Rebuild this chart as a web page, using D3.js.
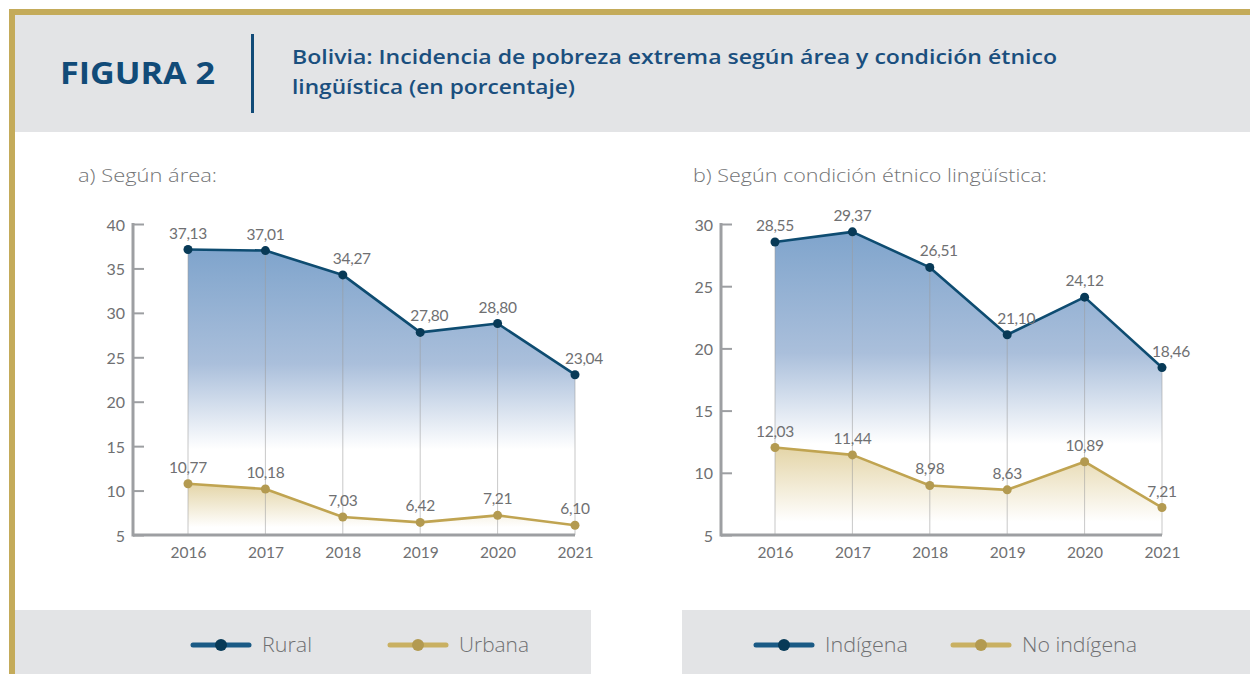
<!DOCTYPE html>
<html>
<head>
<meta charset="utf-8">
<script src="https://cdn.jsdelivr.net/npm/d3@7"></script>
<style>
  html, body { margin: 0; padding: 0; background: #fff; }
  svg { display: block; font-family: Lato, "Open Sans", sans-serif; }
</style>
</head>
<body>
<div id="chart"></div>
<script>
// Data
const years = ["2016", "2017", "2018", "2019", "2020", "2021"];
const rural = [37.13, 37.01, 34.27, 27.80, 28.80, 23.04];
const urbana = [10.77, 10.18, 7.03, 6.42, 7.21, 6.10];
const indigena = [28.55, 29.37, 26.51, 21.10, 24.12, 18.46];
const noIndigena = [12.03, 11.44, 8.98, 8.63, 10.89, 7.21];
const ticksA = [5, 10, 15, 20, 25, 30, 35, 40];
const ticksB = [5, 10, 15, 20, 25, 30];

const W = 1250, H = 674;
const gold = "#c4ab5a", grayBg = "#e3e4e6", navy = "#114b78";
const blueLine = "#0e4c71", blueDot = "#083a57";
const goldLine = "#c0a451", goldDot = "#b39a50";
const textGray = "#6f7072", axisGray = "#9d9fa2";
const sans = "'Open Sans', sans-serif";

const svg = d3.select("#chart").append("svg")
  .attr("width", W)
  .attr("height", H);

const defs = svg.append("defs");
const gBlue = defs.append("linearGradient").attr("id", "gBlue")
  .attr("x1", 0).attr("y1", 0).attr("x2", 0).attr("y2", 1);
gBlue.append("stop").attr("offset", "0%").attr("stop-color", "#7fa4cc");
gBlue.append("stop").attr("offset", "40%").attr("stop-color", "#aabfdb");
gBlue.append("stop").attr("offset", "70%").attr("stop-color", "#ffffff");
const gGold = defs.append("linearGradient").attr("id", "gGold")
  .attr("x1", 0).attr("y1", 0).attr("x2", 0).attr("y2", 1);
gGold.append("stop").attr("offset", "0%").attr("stop-color", "#e4d5a8");
gGold.append("stop").attr("offset", "85%").attr("stop-color", "#ffffff");

// frame + header
svg.append("rect").attr("x", 15).attr("y", 15).attr("width", W - 15).attr("height", 117).attr("fill", grayBg);
svg.append("rect").attr("x", 9).attr("y", 9).attr("width", W - 9).attr("height", 6).attr("fill", gold);
svg.append("rect").attr("x", 9).attr("y", 9).attr("width", 6).attr("height", H - 9).attr("fill", gold);

svg.append("text").attr("x", 60).attr("y", 84)
  .attr("fill", navy).attr("font-size", 30).attr("font-weight", 700)
  .attr("font-family", sans)
  .attr("textLength", 155).attr("lengthAdjust", "spacingAndGlyphs")
  .text("FIGURA 2");
svg.append("rect").attr("x", 251).attr("y", 34).attr("width", 3).attr("height", 79).attr("fill", navy);
const title = svg.append("text").attr("fill", "#1a4f7e").attr("font-size", 19.5)
  .attr("font-weight", 600).attr("font-family", sans);
title.append("tspan").attr("x", 292).attr("y", 64)
  .attr("textLength", 765).attr("lengthAdjust", "spacingAndGlyphs")
  .text("Bolivia:  Incidencia de pobreza extrema según área y condición étnico");
title.append("tspan").attr("x", 292).attr("y", 94)
  .attr("textLength", 283).attr("lengthAdjust", "spacingAndGlyphs")
  .text("lingüística (en porcentaje)");

// legend boxes
svg.append("rect").attr("x", 15).attr("y", 610).attr("width", 576).attr("height", 64).attr("fill", grayBg);
svg.append("rect").attr("x", 682).attr("y", 610).attr("width", W - 682).attr("height", 64).attr("fill", grayBg);

function panel(opt) {
  const x = d3.scalePoint().domain(years).range([opt.x0, opt.x1]);
  const y = d3.scaleLinear().domain([5, opt.ymax]).range([535, 224]);
  const g = svg.append("g");

  g.append("text").attr("x", opt.subX).attr("y", 182)
    .attr("fill", "#737476").attr("font-size", 18.5).attr("font-weight", 300)
    .attr("font-family", sans)
    .attr("textLength", opt.subW).attr("lengthAdjust", "spacingAndGlyphs")
    .text(opt.subtitle);

  const rowsTop = years.map((d, i) => ({year: d, v: opt.top[i]}));
  const rowsBot = years.map((d, i) => ({year: d, v: opt.bot[i]}));

  const area = d3.area().x(d => x(d.year)).y0(y(5)).y1(d => y(d.v));
  const line = d3.line().x(d => x(d.year)).y(d => y(d.v));

  g.append("path").datum(rowsTop).attr("d", area).attr("fill", "url(#gBlue)");
  g.append("path").datum(rowsBot).attr("d", area).attr("fill", "url(#gGold)");

  // vertical guides
  g.append("g").selectAll("line").data(rowsTop).join("line")
    .attr("x1", d => x(d.year)).attr("x2", d => x(d.year))
    .attr("y1", d => y(d.v)).attr("y2", y(5))
    .attr("stroke", "#9a9a9a").attr("stroke-opacity", 0.55).attr("stroke-width", 1);

  // y axis
  const ya = g.append("g").attr("transform", `translate(${opt.ax},0)`)
    .call(d3.axisRight(y).tickValues(opt.ticks).tickSize(11).tickFormat(""));
  ya.select(".domain").remove();
  ya.selectAll(".tick line").attr("stroke", axisGray).attr("stroke-width", 2);
  g.append("line").attr("x1", opt.ax).attr("x2", opt.ax).attr("y1", y(opt.ymax) - 1).attr("y2", y(5) + 1.5)
    .attr("stroke", axisGray).attr("stroke-width", 3);
  g.append("g").selectAll("text").data(opt.ticks).join("text")
    .attr("x", opt.ax - 8).attr("y", d => y(d) + 1).attr("dy", "0.35em")
    .attr("text-anchor", "end").attr("fill", textGray).attr("font-size", 16)
    .text(d => d);

  // x axis
  g.append("line").attr("x1", opt.ax).attr("x2", x(years[years.length - 1]))
    .attr("y1", y(5)).attr("y2", y(5)).attr("stroke", axisGray).attr("stroke-width", 3);
  const xa = g.append("g").attr("transform", `translate(0,${y(5)})`)
    .call(d3.axisBottom(x).tickSize(0).tickPadding(12));
  xa.select(".domain").remove();
  xa.selectAll("text").attr("fill", textGray).attr("font-size", 15.5).attr("font-family", "Lato, sans-serif");

  const fmt = v => d3.format(".2f")(v).replace(".", ",");

  [[rowsTop, blueLine, blueDot, true], [rowsBot, goldLine, goldDot, false]].forEach(([rows, lc, dc, nudge]) => {
    g.append("path").datum(rows).attr("d", line)
      .attr("fill", "none").attr("stroke", lc).attr("stroke-width", 2.6).attr("stroke-linejoin", "round");
    g.append("g").selectAll("circle").data(rows).join("circle")
      .attr("cx", d => x(d.year)).attr("cy", d => y(d.v)).attr("r", 4.5).attr("fill", dc);
    g.append("g").selectAll("text").data(rows).join("text")
      .attr("x", (d, i) => x(d.year) + (nudge && i > 0 && rows[i - 1].v - d.v > 1 ? 9 : 0))
      .attr("y", d => y(d.v) - 11)
      .attr("text-anchor", "middle").attr("fill", textGray).attr("font-size", 15.5)
      .attr("letter-spacing", -0.3)
      .text(d => fmt(d.v));
  });

  // legend
  const lg = g.append("g").attr("transform", "translate(0,645)");
  opt.legend.forEach(l => {
    const lx = l.x;
    lg.append("line").attr("x1", lx).attr("x2", lx + 56).attr("y1", 0).attr("y2", 0)
      .attr("stroke", l.line).attr("stroke-width", 5).attr("stroke-linecap", "round");
    lg.append("circle").attr("cx", lx + 28).attr("cy", 0).attr("r", 6).attr("fill", l.dot);
    lg.append("text").attr("x", lx + 69).attr("y", 0).attr("dy", "0.36em")
      .attr("fill", textGray).attr("font-size", 19.5).attr("font-weight", 300)
      .attr("font-family", sans)
      .attr("textLength", l.w).attr("lengthAdjust", "spacingAndGlyphs")
      .text(l.name);
  });
}

panel({
  subtitle: "a) Según área:", subX: 78, subW: 139,
  ax: 133, x0: 188, x1: 575, ymax: 40, ticks: ticksA,
  top: rural, bot: urbana,
  legend: [
    {name: "Rural", x: 193, w: 50, line: "#1a5a85", dot: blueDot},
    {name: "Urbana", x: 390, w: 70, line: "#c9b062", dot: goldDot}
  ]
});

panel({
  subtitle: "b) Según condición étnico lingüística:", subX: 693, subW: 354,
  ax: 721, x0: 775, x1: 1162, ymax: 30, ticks: ticksB,
  top: indigena, bot: noIndigena,
  legend: [
    {name: "Indígena", x: 756, w: 83, line: "#1a5a85", dot: blueDot},
    {name: "No indígena", x: 953, w: 115, line: "#c9b062", dot: goldDot}
  ]
});
</script>
</body>
</html>
